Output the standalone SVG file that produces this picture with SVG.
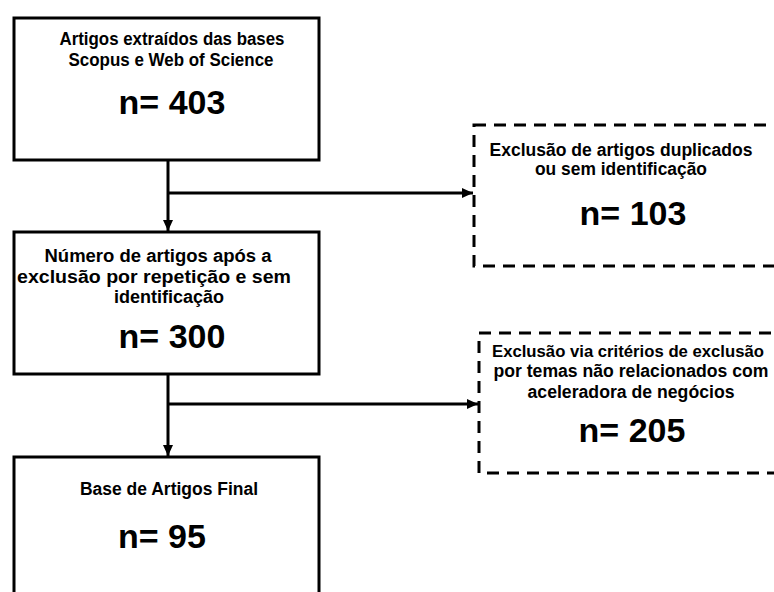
<svg xmlns="http://www.w3.org/2000/svg" width="774" height="592" viewBox="0 0 774 592">
<defs>
<style>
.box{fill:#fff;stroke:#000;stroke-width:3}
.dbox{fill:#fff;stroke:#000;stroke-width:3;stroke-dasharray:12 8}
.t{font-family:"Liberation Sans",Arial,sans-serif;font-weight:bold;font-size:18px;fill:#000;text-anchor:middle}
.n{font-family:"Liberation Sans",Arial,sans-serif;font-weight:bold;font-size:34px;fill:#000;text-anchor:middle}
.c{fill:none;stroke:#000;stroke-width:3}
</style>
<marker id="ah" markerUnits="userSpaceOnUse" markerWidth="12" markerHeight="12" viewBox="0 0 12 12" refX="11" refY="6" orient="auto">
<path d="M0,1 L11,6 L0,11 Z" fill="#000"/>
</marker>
</defs>
<rect width="774" height="592" fill="#fff"/>
<g id="connectors">
<line class="c" x1="168" y1="160" x2="168" y2="231" marker-end="url(#ah)"/>
<line class="c" x1="168" y1="193" x2="473" y2="193" marker-end="url(#ah)"/>
<line class="c" x1="168" y1="374" x2="168" y2="456" marker-end="url(#ah)"/>
<line class="c" x1="168" y1="404" x2="478" y2="404" marker-end="url(#ah)"/>
</g>
<g id="box1">
<rect class="box" x="14" y="18" width="305" height="142"/>
<text class="t" x="172" y="45" textLength="225" lengthAdjust="spacingAndGlyphs">Artigos extraídos das bases</text>
<text class="t" x="171" y="66" textLength="205" lengthAdjust="spacingAndGlyphs">Scopus e Web of Science</text>
<text class="n" x="172" y="114">n= 403</text>
</g>
<g id="box2">
<rect class="box" x="14" y="232" width="305" height="142"/>
<text class="t" x="158" y="262" textLength="227" lengthAdjust="spacingAndGlyphs">Número de artigos após a</text>
<text class="t" x="154" y="283" textLength="274" lengthAdjust="spacingAndGlyphs">exclusão por repetição e sem</text>
<text class="t" x="169" y="303" textLength="110" lengthAdjust="spacingAndGlyphs">identificação</text>
<text class="n" x="172" y="348">n= 300</text>
</g>
<g id="box3">
<rect class="box" x="14" y="457" width="305" height="150"/>
<text class="t" x="169" y="495" textLength="178" lengthAdjust="spacingAndGlyphs">Base de Artigos Final</text>
<text class="n" x="162" y="548">n= 95</text>
</g>
<g id="excl1">
<rect class="dbox" x="474" y="125" width="330" height="141"/>
<text class="t" x="621" y="156" textLength="263" lengthAdjust="spacingAndGlyphs">Exclusão de artigos duplicados</text>
<text class="t" x="621" y="175" textLength="172" lengthAdjust="spacingAndGlyphs">ou sem identificação</text>
<text class="n" x="633" y="225">n= 103</text>
</g>
<g id="excl2">
<rect class="dbox" x="479" y="333" width="330" height="140"/>
<text class="t" x="628" y="357" style="font-size:17px" textLength="272" lengthAdjust="spacingAndGlyphs">Exclusão via critérios de exclusão</text>
<text class="t" x="631" y="377" textLength="275" lengthAdjust="spacingAndGlyphs">por temas não relacionados com</text>
<text class="t" x="631" y="398" textLength="207" lengthAdjust="spacingAndGlyphs">aceleradora de negócios</text>
<text class="n" x="632" y="442">n= 205</text>
</g>
</svg>
